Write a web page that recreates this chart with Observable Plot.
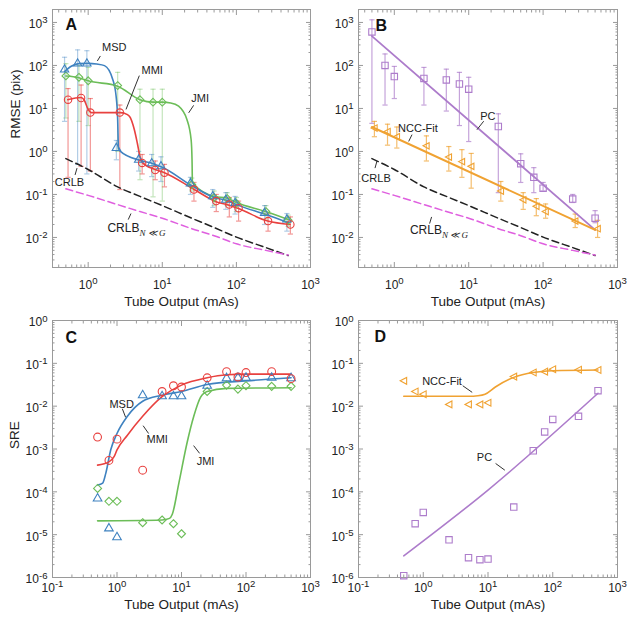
<!DOCTYPE html>
<html><head><meta charset="utf-8">
<script src="https://cdn.jsdelivr.net/npm/d3@7"></script>
<script src="https://cdn.jsdelivr.net/npm/@observablehq/plot@0.6"></script>
<style>
body{margin:0;background:#fff;}
#fig{position:relative;width:635px;height:634px;background:#fff;}
#fig svg{position:absolute;overflow:visible;}
</style></head><body><div id="fig"></div>
<script>
// ---------- data ----------
const mAs = [0.5, 0.75, 1, 2.5, 5, 7.5, 10, 25, 50, 75, 100, 250, 500];

// Panel A: RMSE (pix)
const msdRmse = [80, 110, 110, 1.2, 0.64, 0.53, 0.45, 0.18, 0.09, 0.075, 0.063, 0.037, 0.026];
const msdLo   = [5, 0.5, 0.3, 0.64, 0.35, 0.26, 0.2, 0.1, 0.05, 0.045, 0.035, 0.02, 0.014];
const msdHi   = [155, 230, 220, 1.8, 1.0, 0.85, 0.75, 0.25, 0.13, 0.11, 0.09, 0.055, 0.036];
const mmiRmse = [16, 17.5, 8, 8, 0.54, 0.37, 0.32, 0.13, 0.07, 0.058, 0.048, 0.024, 0.02];
const mmiLo   = [0.25, 0.45, 0.35, 0.13, 0.3, 0.22, 0.15, 0.07, 0.04, 0.03, 0.024, 0.014, 0.012];
const mmiHi   = [29, 35, 17, 12, 0.85, 0.6, 0.5, 0.19, 0.1, 0.085, 0.07, 0.035, 0.03];
const jmiRmse = [57, 53, 44, 34, 16, 14, 14, 0.17, 0.085, 0.08, 0.062, 0.04, 0.025];
const jmiLo   = [6, 5, 4, 1, 0.22, 0.088, 0.07, 0.12, 0.055, 0.055, 0.04, 0.027, 0.018];
const jmiHi   = [110, 100, 90, 69, 28, 28, 28, 0.24, 0.12, 0.11, 0.085, 0.055, 0.033];

const msdFitA = [[0.48,72],[0.6,97],[0.75,110],[1,112],[1.3,108],[1.66,99],[2.14,48],[2.38,19.5],[2.5,5.5],[2.56,1.2],[2.7,1.02],[5,0.62],[7.5,0.52],[10,0.43],[25,0.16],[50,0.085],[75,0.072],[100,0.058],[250,0.034],[500,0.022]];
const mmiFitA = [[0.53,16],[0.8,18],[0.88,16],[1.0,9.5],[1.1,8],[2.7,8],[3.1,7.7],[3.6,6.6],[4.2,3.2],[4.6,1.57],[5.0,0.76],[5.4,0.55],[8,0.38],[10.7,0.32],[27,0.13],[53,0.068],[80,0.056],[107,0.047],[265,0.024],[530,0.02]];
const jmiFitA = [[0.5,57],[0.75,52],[1,44],[2.5,33],[5,16],[7.5,14],[10,14],[13,13.4],[16.6,11.3],[21.5,5.5],[24.5,1.87],[25.2,0.64],[25.5,0.2],[27,0.17],[50,0.09],[75,0.082],[100,0.065],[250,0.04],[500,0.026]];

// CRLB curves (panels A, B)
const crlbX   = [0.5, 1, 2.5, 5, 10, 25, 50, 100, 250, 500];
const crlb    = [0.68, 0.38, 0.15, 0.09, 0.055, 0.028, 0.017, 0.0102, 0.0058, 0.0038];
const crlbNG  = [0.135, 0.095, 0.058, 0.04, 0.028, 0.016, 0.011, 0.0071, 0.005, 0.0039];

// Panel B
const pcRmse  = [600, 100, 55, 50, 46, 37, 28, 3.8, 0.52, 0.25, 0.14, 0.078, 0.028];
const pcLo    = [4.5, 12, 17, 12, 8.7, 4, 1.7, 0.11, 0.19, 0.11, 0.12, 0.065, 0.022];
const pcHi    = [1150, 185, 95, 90, 82, 69, 53, 7.5, 0.88, 0.42, 0.19, 0.1, 0.042];
const nccRmse = [3.5, 2.9, 2.2, 1.35, 0.74, 0.58, 0.45, 0.12, 0.075, 0.053, 0.04, 0.024, 0.016];
const nccLo   = [2.2, 1.4, 1.2, 0.6, 0.35, 0.25, 0.14, 0.07, 0.045, 0.032, 0.028, 0.017, 0.01];
const nccHi   = [5, 4.3, 3.7, 2.3, 1.3, 1.1, 0.9, 0.2, 0.11, 0.08, 0.06, 0.035, 0.025];
const pcFitB  = [[0.5,480],[500,0.015]];
const nccFitB = [[0.5,3.7],[500,0.015]];

// Panel C: SRE
const mmiSre = [0.0019, 0.00054, 0.0017, 0.00032, 0.022, 0.03, 0.028, 0.046, 0.064, 0.048, 0.061, 0.064, 0.044];
const msdSre = [7e-5, 1.4e-5, 8.7e-6, 0.018, 0.017, 0.017, 0.017, 0.03, 0.045, 0.046, 0.046, 0.046, 0.045];
const jmiSre = [1.2e-4, 6e-5, 6e-5, 1.9e-5, 2.2e-5, 1.8e-5, 1.05e-5, 0.022, 0.031, 0.025, 0.03, 0.029, 0.029];
const mmiFitC = [[0.5,4.2e-4],[0.75,5e-4],[0.9,6.6e-4],[1,9.5e-4],[1.45,2.1e-3],[2.5,5.8e-3],[5,0.0166],[10,0.031],[25,0.046],[50,0.054],[100,0.056],[500,0.056]];
const msdFitC = [[0.5,1.45e-4],[0.6,1.6e-4],[0.67,2.7e-4],[0.8,9.6e-4],[1,2.3e-3],[1.45,5.8e-3],[2.5,0.013],[5,0.018],[10,0.022],[25,0.032],[100,0.039],[500,0.046]];
const jmiFitC = [[0.5,2.1e-5],[5,2.2e-5],[6.5,2.4e-5],[7.2,3e-5],[9.1,1.6e-4],[12.2,1.4e-3],[15.5,5.8e-3],[19.7,0.016],[25,0.022],[50,0.026],[500,0.027]];

// Panel D
const nccSre = [0.039, 0.022, 0.019, 0.011, 0.011, 0.011, 0.012, 0.049, 0.061, 0.064, 0.073, 0.071, 0.07];
const pcSre  = [1.1e-6, 1.8e-5, 3.3e-5, 7.6e-6, 2.9e-6, 2.6e-6, 2.7e-6, 4.4e-5, 9.1e-4, 2.5e-3, 4.9e-3, 5.8e-3, 0.023];
const nccFitD = [[0.5,0.017],[5,0.017],[7,0.0175],[9,0.019],[13,0.028],[25,0.047],[50,0.061],[100,0.067],[500,0.07]];
const pcFitD  = [[0.5,3.2e-6],[10,1.1e-4],[500,0.02]];

// tick labels
const xTicksTop = [1, 10, 100, 1000];
const yTicksTop = [0.01, 0.1, 1, 10, 100, 1000];
const xTicksBot = [0.1, 1, 10, 100, 1000];
const yTicksBot = [1e-6, 1e-5, 1e-4, 1e-3, 1e-2, 1e-1, 1];

// annotations (data coordinates)
const annA = [
  {t:"MSD", x:2.25, y:256, x1:1.46, y1:166, x2:1.33, y2:127},
  {t:"MMI", x:7.3, y:78, x1:4.9, y1:58, x2:3.24, y2:9.5},
  {t:"JMI", x:32.4, y:17, x1:26.5, y1:11.8, x2:22.7, y2:7.9},
  {t:"CRLB", x:0.56, y:0.19, x1:0.665, y1:0.284, x2:0.707, y2:0.41}
];
const annAsub = [{t:"CRLB_N≪G", x:1.82, y:0.016, x1:3.47, y1:0.026, x2:3.78, y2:0.036}];
const annB = [
  {t:"PC", x:18.1, y:6.5, x1:15.9, y1:5.05, x2:12.9, y2:3.2},
  {t:"NCC-Fit", x:2.08, y:3.46, x1:1.73, y1:2.46, x2:1.56, y2:1.71},
  {t:"CRLB", x:0.568, y:0.23, x1:0.55, y1:0.41, x2:0.585, y2:0.6}
];
const annBsub = [{t:"CRLB_N≪G", x:1.62, y:0.0148, x1:2.98, y1:0.021, x2:3.17, y2:0.03}];
const annC = [
  {t:"MSD", x:1.18, y:0.0112, x1:1.21, y1:0.0087, x2:1.36, y2:0.0055},
  {t:"MMI", x:4.2, y:0.0017, x1:2.54, y1:0.0035, x2:3.09, y2:0.0023},
  {t:"JMI", x:23.6, y:5.2e-4, x1:15.4, y1:0.0012, x2:19.1, y2:7.9e-4}
];
const annD = [
  {t:"NCC-Fit", x:1.95, y:0.038, x1:4.07, y1:0.03, x2:5.7, y2:0.021},
  {t:"PC", x:8.83, y:6.3e-4, x1:13.1, y1:4.6e-4, x2:18.2, y2:3.2e-4}
];

// ---------- styling ----------
const FONT = '"Liberation Sans", Arial, Helvetica, sans-serif';
const BLUE = "#3f82c0", RED = "#e8413f", GREEN = "#6cbd58", PURPLE = "#ad7ccb", ORANGE = "#f0a232", MAGENTA = "#df5fdf";
const FRAME = "#9a9a9a", TXT = "#222";

const triLeft = {draw(ctx, size){ const r = Math.sqrt(size/Math.PI); ctx.moveTo(-r*1.05,0); ctx.lineTo(r*0.85,-r); ctx.lineTo(r*0.85,r); ctx.closePath(); }};
const cap = {draw(ctx, size){ const r = Math.sqrt(size/Math.PI); ctx.moveTo(-r,0); ctx.lineTo(r,0); }};

const ser = (xs, ys, lo, hi) => xs.map((x,i) => ({x, y: ys[i], lo: lo ? lo[i] : null, hi: hi ? hi[i] : null}));
const pts = arr => arr.map(([x,y]) => ({x, y}));

function minorTicks(lo, hi) {
  const out = [];
  for (let e = Math.floor(Math.log10(lo)); e <= Math.ceil(Math.log10(hi)); e++)
    for (let k = 2; k <= 9; k++) { const v = k * Math.pow(10, e); if (v > lo && v < hi) out.push(v); }
  return out;
}
const fmt = v => "10^" + Math.round(Math.log10(v));

function axesMarks(xMaj, yMaj, xDom, yDom, xPad) {
  const xMin = minorTicks(xDom[0], xDom[1]), yMin = minorTicks(yDom[0], yDom[1]);
  const blank = () => "";
  const m = [Plot.frame({stroke: FRAME, strokeWidth: 1})];
  for (const a of ["bottom", "top"]) {
    m.push(Plot.axisX(xMaj, {anchor: a, tickSize: -5, tickFormat: blank, stroke: FRAME, label: null}));
    m.push(Plot.axisX(xMin, {anchor: a, tickSize: -2.5, tickFormat: blank, stroke: FRAME, label: null}));
  }
  for (const a of ["left", "right"]) {
    m.push(Plot.axisY(yMaj, {anchor: a, tickSize: -5, tickFormat: blank, stroke: FRAME, label: null}));
    m.push(Plot.axisY(yMin, {anchor: a, tickSize: -2.5, tickFormat: blank, stroke: FRAME, label: null}));
  }
  m.push(Plot.axisX(xMaj, {anchor: "bottom", tickSize: 0, tickPadding: xPad, tickFormat: fmt, fontSize: 12, fill: TXT, label: null}));
  m.push(Plot.axisY(yMaj, {anchor: "left", tickSize: 0, tickPadding: 5, tickFormat: fmt, fontSize: 12, fill: TXT, dy: 2, label: null}));
  return m;
}

function errMarks(data, color, dodge, op) {
  const xf = d => d.x * dodge;
  return [
    Plot.ruleX(data, {x: xf, y1: "lo", y2: "hi", stroke: color, strokeOpacity: op, strokeWidth: 1.2}),
    Plot.dot(data, {x: xf, y: "lo", symbol: cap, r: 2.6, stroke: color, strokeOpacity: op, fill: "none", strokeWidth: 1.2}),
    Plot.dot(data, {x: xf, y: "hi", symbol: cap, r: 2.6, stroke: color, strokeOpacity: op, fill: "none", strokeWidth: 1.2})
  ];
}
const fitLine = (arr, color, w = 1.6) => Plot.line(pts(arr), {x: "x", y: "y", curve: "monotone-x", stroke: color, strokeWidth: w});
const markers = (data, color, symbol, dodge = 1, r = 4) =>
  Plot.dot(data, {x: d => d.x * dodge, y: "y", symbol, r, stroke: color, fill: "none", strokeWidth: 1.1});
const annMarks = (ann, anchor = "middle") => [
  Plot.link(ann, {x1: "x1", y1: "y1", x2: "x2", y2: "y2", stroke: "#333", strokeWidth: 1}),
  Plot.text(ann, {x: "x", y: "y", text: "t", fontSize: 11, fill: TXT, textAnchor: anchor})
];
const letter = (L, dx, dy) => Plot.text([L], {frameAnchor: "top-left", textAnchor: "start", lineAnchor: "top", dx, dy, fontSize: 16, fontWeight: "bold", fill: "#111"});
const xTitle = dy => Plot.text(["Tube Output (mAs)"], {frameAnchor: "bottom", dy, fontSize: 13.5, fill: TXT});
const yTitle = (t, dx) => Plot.text([t], {frameAnchor: "left", dx, rotate: -90, fontSize: 13.5, fill: TXT});

function panel({left, top, width, height, margin, xDom, yDom, marks}) {
  const svg = Plot.plot({
    width, height,
    marginTop: margin[0], marginRight: margin[1], marginBottom: margin[2], marginLeft: margin[3],
    x: {type: "log", domain: xDom},
    y: {type: "log", domain: yDom},
    style: {fontFamily: FONT, fontSize: "12px", color: TXT, background: "transparent", overflow: "visible"},
    marks
  });
  svg.style.left = left + "px";
  svg.style.top = top + "px";
  document.getElementById("fig").appendChild(svg);
  richText(svg);
}

const NS = "http://www.w3.org/2000/svg";
function span(parent, txt, attrs = {}) {
  const s = document.createElementNS(NS, "tspan");
  s.textContent = txt;
  for (const k in attrs) s.setAttribute(k, attrs[k]);
  parent.appendChild(s);
  return s;
}
function richText(svg) {
  svg.querySelectorAll("text").forEach(t => {
    const s = t.textContent;
    let m = s.match(/^10\^(-?\d+)$/);
    if (m) {
      t.textContent = "";
      span(t, "10");
      span(t, m[1], {"dy": "-0.5em", "font-size": "0.8em"});
      return;
    }
    m = s.match(/^CRLB_(.+)$/);
    if (m) {
      t.textContent = "";
      span(t, "CRLB", {"font-size": "12px"});
      span(t, m[1].replace("≪", " ≪ "), {"dy": "0.45em", "font-size": "9px", "font-style": "italic", "font-family": "'Liberation Serif', 'DejaVu Serif', serif"});
    }
  });
}

// ---------- panels ----------
const domTopX = [0.33, 1000], domTopY = [0.002, 2000];
const domBotX = [0.1, 1000], domBotY = [1e-6, 1];

const A_msd = ser(mAs, msdRmse, msdLo, msdHi);
const A_mmi = ser(mAs, mmiRmse, mmiLo, mmiHi);
const A_jmi = ser(mAs, jmiRmse, jmiLo, jmiHi);
const crlbA = ser(crlbX, crlb), crlbNGA = ser(crlbX, crlbNG);

panel({left: 0, top: 0, width: 318, height: 310, margin: [9, 8, 43, 52], xDom: domTopX, yDom: domTopY, marks: [
  ...axesMarks(xTicksTop, yTicksTop, domTopX, domTopY, 13),
  ...errMarks(A_jmi, GREEN, 1.0, 0.4),
  ...errMarks(A_msd, BLUE, 0.96, 0.4),
  ...errMarks(A_mmi, RED, 1.07, 0.55),
  Plot.line(crlbA, {x: "x", y: "y", stroke: "#222", strokeWidth: 1.5, strokeDasharray: "7,4", curve: "monotone-x"}),
  Plot.line(crlbNGA, {x: "x", y: "y", stroke: MAGENTA, strokeWidth: 1.5, strokeDasharray: "7,4", curve: "monotone-x"}),
  fitLine(jmiFitA, GREEN), fitLine(msdFitA, BLUE), fitLine(mmiFitA, RED),
  markers(A_jmi, GREEN, "diamond2", 1.0, 3.5),
  markers(A_msd, BLUE, "triangle", 0.96, 3.1),
  markers(A_mmi, RED, "circle", 1.07, 3.7),
  ...annMarks(annA), ...annMarks(annAsub, "start"),
  letter("A", 13, 9), xTitle(38), yTitle("RMSE (pix)", -37)
]});

const B_pc = ser(mAs, pcRmse, pcLo, pcHi);
const B_ncc = ser(mAs, nccRmse, nccLo, nccHi);
panel({left: 318, top: 0, width: 317, height: 310, margin: [9, 18, 43, 40], xDom: domTopX, yDom: domTopY, marks: [
  ...axesMarks(xTicksTop, yTicksTop, domTopX, domTopY, 13),
  ...errMarks(B_pc, PURPLE, 1.0, 0.7),
  ...errMarks(B_ncc, ORANGE, 1.08, 0.7),
  Plot.line(crlbA, {x: "x", y: "y", stroke: "#222", strokeWidth: 1.5, strokeDasharray: "7,4", curve: "monotone-x"}),
  Plot.line(crlbNGA, {x: "x", y: "y", stroke: MAGENTA, strokeWidth: 1.5, strokeDasharray: "7,4", curve: "monotone-x"}),
  fitLine(pcFitB, PURPLE, 1.8), fitLine(nccFitB, ORANGE, 2),
  markers(B_pc, PURPLE, "square", 1.0, 3.6),
  markers(B_ncc, ORANGE, triLeft, 1.08, 3.2),
  ...annMarks(annB), ...annMarks(annBsub, "start"),
  letter("B", 17, 10), xTitle(38)
]});

const C_mmi = ser(mAs, mmiSre), C_msd = ser(mAs, msdSre), C_jmi = ser(mAs, jmiSre);
panel({left: 0, top: 310, width: 318, height: 324, margin: [10, 8, 57, 52], xDom: domBotX, yDom: domBotY, marks: [
  ...axesMarks(xTicksBot, yTicksBot, domBotX, domBotY, 6),
  fitLine(jmiFitC, GREEN), fitLine(msdFitC, BLUE), fitLine(mmiFitC, RED),
  markers(C_jmi, GREEN, "diamond2", 1, 3.6),
  markers(C_msd, BLUE, "triangle", 1, 3.2),
  markers(C_mmi, RED, "circle", 1, 3.9),
  ...annMarks(annC),
  letter("C", 13, 11), xTitle(31), yTitle("SRE", -38)
]});

const D_ncc = ser(mAs, nccSre), D_pc = ser(mAs, pcSre);
panel({left: 318, top: 310, width: 317, height: 324, margin: [10, 18, 57, 40], xDom: domBotX, yDom: domBotY, marks: [
  ...axesMarks(xTicksBot, yTicksBot, domBotX, domBotY, 6),
  fitLine(nccFitD, ORANGE), fitLine(pcFitD, PURPLE),
  markers(D_ncc, ORANGE, triLeft, 1, 3.4),
  markers(D_pc, PURPLE, "square", 1, 3.6),
  ...annMarks(annD),
  letter("D", 16, 10), xTitle(31)
]});
</script>
</body></html>
